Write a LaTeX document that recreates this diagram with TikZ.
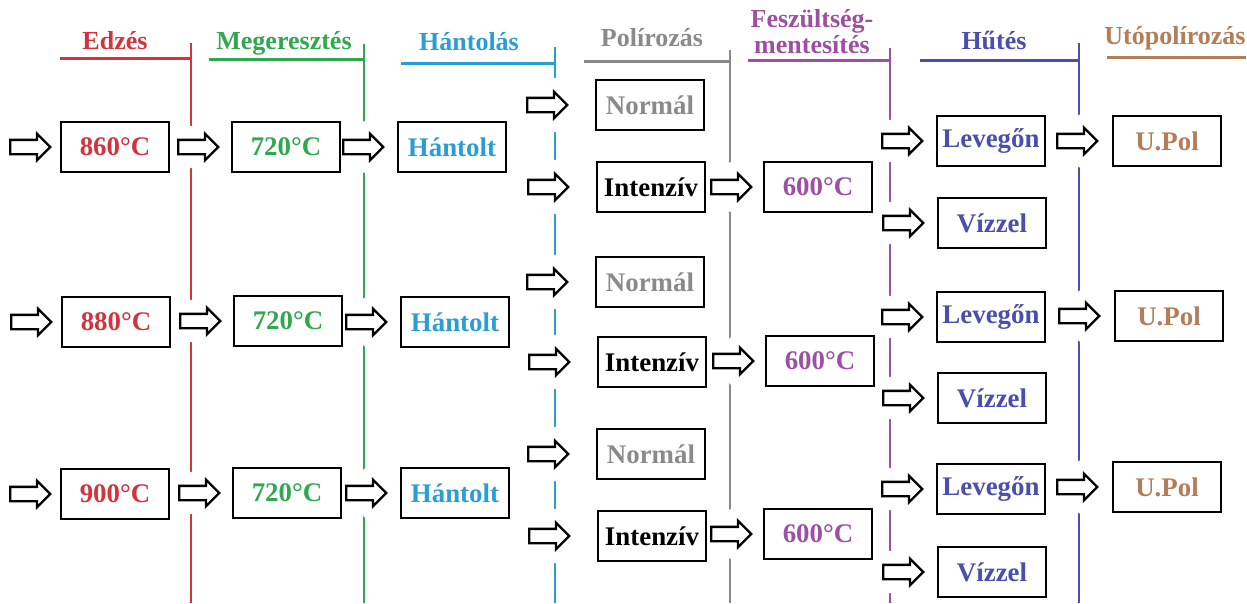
\documentclass[tikz,border=0pt]{standalone}
\usepackage{fontspec}
\setmainfont{Liberation Serif}
\usepackage{xcolor}
\usepackage{tikz}
\usetikzlibrary{positioning,shapes.arrows}

\definecolor{edred}{HTML}{D2333C}
\definecolor{megreen}{HTML}{2FA84F}
\definecolor{hanblue}{HTML}{2A9ED2}
\definecolor{polgray}{HTML}{8A8A8A}
\definecolor{fespurple}{HTML}{9C4FA3}
\definecolor{hutblue}{HTML}{4A4FAE}
\definecolor{utobrown}{HTML}{B27D57}

\pgfdeclarelayer{lines}
\pgfdeclarelayer{arrows}
\pgfsetlayers{lines,arrows,main}

\begin{document}
\begin{tikzpicture}[x=0.02cm,y=-0.02cm,
  font=\fontsize{14.8}{17}\selectfont\bfseries,
  box/.style={draw,line width=1.4pt,fill=white,minimum width=2.16cm,minimum height=1cm,inner sep=0pt,
    font=\fontsize{15.3}{17}\selectfont\bfseries},
  blk/.style={single arrow,draw,line width=1.3pt,fill=white,minimum height=0.8cm,
    single arrow head extend=0.12cm,inner xsep=0pt,inner ysep=0.12cm,
    preaction={draw=white,line width=16pt,line join=round}},
  hline/.style={line width=1.7pt},
  vline/.style={line width=1.6pt}]
 \useasboundingbox (0,0) rectangle (1247,603);

 % headers
 \node[edred,anchor=base] (tE) at (115,49) {Edzés};
 \node[megreen,anchor=base] (tM) at (284,49) {Megeresztés};
 \node[hanblue,anchor=base] (tH) at (469,50) {Hántolás};
 \node[polgray,anchor=base] (tP) at (652,46) {Polírozás};
 \node[fespurple,align=center,inner sep=0pt,font=\fontsize{14.8}{13}\selectfont\bfseries,
   anchor=base] (tF) at (812,53) {Feszültség-\\mentesítés};
 \node[hutblue,anchor=base] (tHu) at (994,49) {Hűtés};
 \node[utobrown,anchor=base] (tU) at (1175,44) {Utópolírozás};

 \begin{pgfonlayer}{lines}
 \draw[hline,edred] (60,58) -- (191,58);
 \draw[hline,megreen] (209,59) -- (364,59);
 \draw[hline,hanblue] (401,63) -- (555,63);
 \draw[hline,polgray] (584,61) -- (730,61);
 \draw[hline,fespurple] (748,60) -- (890,60);
 \draw[hline,hutblue] (920,60) -- (1079,60);
 \draw[hline,utobrown] (1107,57) -- (1246,57);
 \draw[vline,edred] (191,43) -- (191,603);
 \draw[vline,megreen] (364,44) -- (364,603);
 \draw[vline,hanblue] (555,47) -- (555,603);
 \draw[vline,polgray] (730,50) -- (730,603);
 \draw[vline,fespurple] (890,48) -- (890,603);
 \draw[vline,hutblue] (1079,43) -- (1079,603);
 \end{pgfonlayer}

 % row 1
 \node[box,text=edred] (e1) at (115,147) {860°C};
 \node[box,text=megreen] (m1) at (286,147) {720°C};
 \node[box,text=hanblue] (h1) at (452,147) {Hántolt};
 \node[box,text=polgray] (n1) at (650,105) {Normál};
 \node[box] (i1) at (651,187) {Intenzív};
 \node[box,text=fespurple] (f1) at (818,187) {600°C};
 \node[box,text=hutblue] (l1) at (991,141) {Levegőn};
 \node[box,text=hutblue] (v1) at (992,223) {Vízzel};
 \node[box,text=utobrown] (u1) at (1167,141) {U.Pol};

 % row 2
 \node[box,text=edred] (e2) at (116,322) {880°C};
 \node[box,text=megreen] (m2) at (288,321) {720°C};
 \node[box,text=hanblue] (h2) at (455,322) {Hántolt};
 \node[box,text=polgray] (n2) at (650,282) {Normál};
 \node[box] (i2) at (652,362) {Intenzív};
 \node[box,text=fespurple] (f2) at (820,361) {600°C};
 \node[box,text=hutblue] (l2) at (991,317) {Levegőn};
 \node[box,text=hutblue] (v2) at (992,398) {Vízzel};
 \node[box,text=utobrown] (u2) at (1169,316) {U.Pol};

 % row 3
 \node[box,text=edred] (e3) at (115,494) {900°C};
 \node[box,text=megreen] (m3) at (287,493) {720°C};
 \node[box,text=hanblue] (h3) at (455,493) {Hántolt};
 \node[box,text=polgray] (n3) at (651,454) {Normál};
 \node[box] (i3) at (652,536) {Intenzív};
 \node[box,text=fespurple] (f3) at (818,534) {600°C};
 \node[box,text=hutblue] (l3) at (991,489) {Levegőn};
 \node[box,text=hutblue] (v3) at (992,572) {Vízzel};
 \node[box,text=utobrown] (u3) at (1167,487) {U.Pol};

 % block arrows
 \begin{pgfonlayer}{arrows}
 \node[blk,left=0.16cm of e1] (ae1) {};
 \node[blk,left=0.22cm of m1] (am1) {};
 \node[blk,left=0.24cm of h1] (ah1) {};
 \node[blk,left=0.52cm of n1] (an1) {};
 \node[blk,left=0.52cm of i1] (ai1) {};
 \node[blk,left=0.2cm of f1] (af1) {};
 \node[blk,left=0.24cm of l1] (al1) {};
 \node[blk,left=0.24cm of v1] (av1) {};
 \node[blk,left=0.26cm of u1] (au1) {};

 \node[blk,left=0.16cm of e2] (ae2) {};
 \node[blk,left=0.22cm of m2] (am2) {};
 \node[blk,left=0.24cm of h2] (ah2) {};
 \node[blk,left=0.52cm of n2] (an2) {};
 \node[blk,left=0.52cm of i2] (ai2) {};
 \node[blk,left=0.2cm of f2] (af2) {};
 \node[blk,left=0.24cm of l2] (al2) {};
 \node[blk,left=0.24cm of v2] (av2) {};
 \node[blk,left=0.26cm of u2] (au2) {};

 \node[blk,left=0.16cm of e3] (ae3) {};
 \node[blk,left=0.22cm of m3] (am3) {};
 \node[blk,left=0.24cm of h3] (ah3) {};
 \node[blk,left=0.52cm of n3] (an3) {};
 \node[blk,left=0.52cm of i3] (ai3) {};
 \node[blk,left=0.2cm of f3] (af3) {};
 \node[blk,left=0.24cm of l3] (al3) {};
 \node[blk,left=0.24cm of v3] (av3) {};
 \node[blk,left=0.26cm of u3] (au3) {};
 \end{pgfonlayer}
\end{tikzpicture}
\end{document}
